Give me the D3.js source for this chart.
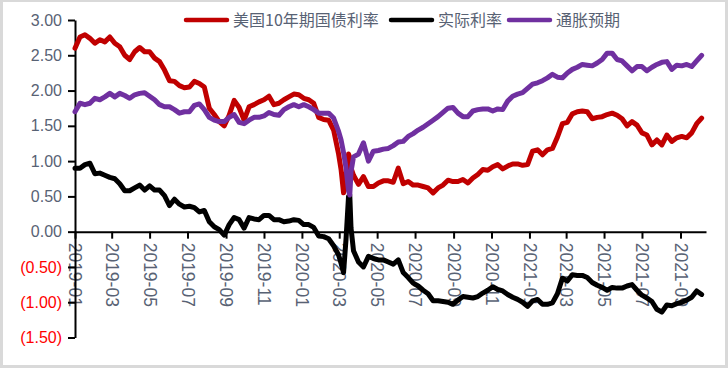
<!DOCTYPE html>
<html>
<head>
<meta charset="utf-8">
<script src="https://cdn.jsdelivr.net/npm/d3@7"></script>
<style>
  body { margin: 0; background: #d9d9d9; }
  svg { display: block; }
</style>
</head>
<body>
<div id="chart"></div>
<script>
// observation dates (roughly every 8 days, extra points around the March 2020 crash)
const dates = [
  "2019-01-01","2019-01-09","2019-01-17","2019-01-25","2019-02-02","2019-02-10","2019-02-18","2019-02-26",
  "2019-03-06","2019-03-14","2019-03-22","2019-03-30","2019-04-07","2019-04-15","2019-04-23","2019-05-01",
  "2019-05-09","2019-05-17","2019-05-25","2019-06-02","2019-06-10","2019-06-18","2019-06-26","2019-07-04",
  "2019-07-12","2019-07-20","2019-07-28","2019-08-05","2019-08-13","2019-08-21","2019-08-29","2019-09-06",
  "2019-09-14","2019-09-22","2019-09-30","2019-10-08","2019-10-16","2019-10-24","2019-11-01","2019-11-09",
  "2019-11-17","2019-11-25","2019-12-03","2019-12-11","2019-12-19","2019-12-27",
  "2020-01-04","2020-01-12","2020-01-20","2020-01-28","2020-02-05","2020-02-13","2020-02-21","2020-02-29",
  "2020-03-04","2020-03-08","2020-03-12","2020-03-16","2020-03-18","2020-03-20","2020-03-24","2020-04-01",
  "2020-04-09","2020-04-17","2020-04-25","2020-05-03","2020-05-11","2020-05-19","2020-05-27","2020-06-04",
  "2020-06-12","2020-06-20","2020-06-28","2020-07-06","2020-07-14","2020-07-22","2020-07-30","2020-08-07",
  "2020-08-15","2020-08-23","2020-08-31","2020-09-08","2020-09-16","2020-09-24","2020-10-02","2020-10-10",
  "2020-10-18","2020-10-26","2020-11-03","2020-11-11","2020-11-19","2020-11-27","2020-12-05","2020-12-13",
  "2020-12-21","2020-12-29",
  "2021-01-06","2021-01-14","2021-01-22","2021-01-30","2021-02-07","2021-02-15","2021-02-23","2021-03-03",
  "2021-03-11","2021-03-19","2021-03-27","2021-04-04","2021-04-12","2021-04-20","2021-04-28","2021-05-06",
  "2021-05-14","2021-05-22","2021-05-30","2021-06-07","2021-06-15","2021-06-23","2021-07-01","2021-07-09",
  "2021-07-17","2021-07-25","2021-08-02","2021-08-10","2021-08-18","2021-08-26","2021-09-03","2021-09-11",
  "2021-09-19","2021-09-27","2021-10-05"
];

// 美国10年期国债利率
const nominal = [
  2.60,2.76,2.79,2.74,2.67,2.72,2.69,2.76,2.67,2.62,2.50,2.44,2.55,2.61,2.55,2.55,
  2.46,2.41,2.29,2.14,2.13,2.07,2.04,2.05,2.13,2.10,2.05,1.75,1.66,1.56,1.50,1.65,
  1.86,1.76,1.58,1.77,1.80,1.84,1.87,1.92,1.80,1.82,1.87,1.91,1.95,1.94,
  1.89,1.87,1.82,1.62,1.59,1.58,1.44,1.10,0.88,0.55,0.80,1.10,1.05,0.90,0.80,0.67,
  0.78,0.64,0.64,0.69,0.72,0.72,0.70,0.90,0.68,0.71,0.66,0.66,0.64,0.62,0.55,0.62,
  0.66,0.73,0.71,0.71,0.74,0.69,0.76,0.81,0.88,0.87,0.92,0.95,0.89,0.93,0.96,0.96,
  0.94,0.95,
  1.14,1.16,1.09,1.16,1.18,1.34,1.53,1.55,1.67,1.70,1.71,1.70,1.60,1.62,1.63,1.66,
  1.68,1.65,1.60,1.50,1.56,1.51,1.40,1.37,1.23,1.30,1.23,1.37,1.28,1.33,1.35,1.33,
  1.40,1.53,1.61
];

// 实际利率
const real = [
  0.90,0.90,0.95,0.97,0.82,0.83,0.80,0.77,0.75,0.68,0.58,0.58,0.62,0.66,0.59,0.65,
  0.59,0.59,0.51,0.37,0.46,0.39,0.35,0.36,0.34,0.28,0.30,0.14,0.07,0.03,-0.05,0.10,
  0.20,0.17,0.05,0.20,0.18,0.17,0.23,0.23,0.17,0.17,0.14,0.15,0.17,0.16,
  0.10,0.10,0.06,-0.06,-0.07,-0.10,-0.20,-0.33,-0.45,-0.58,-0.10,0.50,0.52,0.05,-0.27,-0.43,
  -0.50,-0.35,-0.38,-0.40,-0.40,-0.43,-0.46,-0.40,-0.58,-0.65,-0.73,-0.77,-0.83,-0.88,-0.98,-0.98,
  -0.99,-1.00,-1.03,-0.97,-0.92,-0.93,-0.94,-0.92,-0.87,-0.83,-0.78,-0.82,-0.84,-0.89,-0.93,-0.96,
  -1.00,-1.06,
  -0.98,-0.96,-1.03,-1.03,-1.01,-0.88,-0.66,-0.70,-0.61,-0.62,-0.62,-0.65,-0.72,-0.76,-0.79,-0.83,
  -0.79,-0.80,-0.80,-0.77,-0.75,-0.83,-0.90,-0.94,-0.99,-1.10,-1.14,-1.04,-1.05,-1.02,-1.00,-0.97,
  -0.93,-0.84,-0.89
];

// 通胀预期
const breakeven = [
  1.70,1.82,1.80,1.82,1.89,1.87,1.91,1.96,1.91,1.96,1.93,1.89,1.94,1.96,1.97,1.92,
  1.87,1.80,1.77,1.77,1.73,1.68,1.70,1.70,1.79,1.81,1.73,1.62,1.58,1.56,1.56,1.62,
  1.66,1.55,1.53,1.58,1.62,1.62,1.64,1.69,1.66,1.65,1.73,1.77,1.80,1.77,
  1.80,1.77,1.73,1.68,1.68,1.68,1.61,1.42,1.30,1.12,0.90,0.58,0.52,0.85,1.06,1.10,
  1.26,1.00,1.14,1.15,1.17,1.18,1.22,1.27,1.28,1.35,1.39,1.44,1.48,1.53,1.58,1.63,
  1.69,1.75,1.76,1.68,1.63,1.63,1.71,1.73,1.74,1.74,1.71,1.74,1.73,1.85,1.92,1.95,
  1.97,2.03,
  2.09,2.11,2.14,2.18,2.23,2.19,2.18,2.25,2.30,2.33,2.37,2.36,2.35,2.39,2.44,2.53,
  2.53,2.44,2.42,2.35,2.28,2.34,2.34,2.28,2.33,2.37,2.40,2.41,2.30,2.36,2.35,2.37,
  2.34,2.42,2.50
];

const seriesNames = ["美国10年期国债利率", "实际利率", "通胀预期"];
const yTicks = [3.0, 2.5, 2.0, 1.5, 1.0, 0.5, 0.0, -0.5, -1.0, -1.5];

const W = 728, H = 368;
const margin = { top: 20, right: 22, bottom: 30.5, left: 75 };
const colors = ["#c00000", "#000000", "#7030a0"];
const textGray = "#586274";
const numFont = "'Liberation Sans', Arial, sans-serif";
const cjkFont = "'Noto Sans CJK SC', 'Liberation Sans', sans-serif";

const parse = d3.timeParse("%Y-%m-%d");
const parsed = dates.map(parse);

const svg = d3.select("#chart").append("svg")
  .attr("width", W)
  .attr("height", H);

// white chart area inside the grey frame
svg.append("rect")
  .attr("x", 3).attr("y", 2)
  .attr("width", 722).attr("height", 363)
  .attr("fill", "#ffffff");

const x = d3.scaleTime()
  .domain([new Date(2019, 0, 1), new Date(2021, 9, 12)])
  .range([margin.left, W - margin.right]);

const y = d3.scaleLinear()
  .domain([-1.5, 3])
  .range([H - margin.bottom, margin.top]);

// x axis along zero
const xAxis = svg.append("g")
  .attr("transform", `translate(0, ${y(0)})`)
  .call(d3.axisBottom(x)
    .ticks(d3.timeMonth.every(2))
    .tickFormat(d3.timeFormat("%Y-%m"))
    .tickSize(7)
    .tickSizeOuter(0));

xAxis.select(".domain").attr("stroke", "#000").attr("stroke-width", 2);
xAxis.selectAll(".tick line").attr("stroke", "#000").attr("stroke-width", 2);
xAxis.selectAll(".tick text")
  .attr("transform", "rotate(90)")
  .attr("x", 11)
  .attr("y", 0)
  .attr("dy", "0.36em")
  .attr("text-anchor", "start")
  .attr("fill", textGray)
  .style("font-family", numFont)
  .style("font-size", "17.5px");

// y axis
const yAxis = svg.append("g")
  .attr("transform", `translate(${margin.left}, 0)`)
  .call(d3.axisLeft(y)
    .tickValues(yTicks)
    .tickFormat(d => d < 0 ? `(${d3.format(".2f")(-d)})` : d3.format(".2f")(d))
    .tickSize(7)
    .tickPadding(6)
    .tickSizeOuter(0));

yAxis.select(".domain").attr("stroke", "#000").attr("stroke-width", 2);
yAxis.selectAll(".tick line").attr("stroke", "#000").attr("stroke-width", 2);
yAxis.selectAll(".tick text")
  .attr("fill", d => d < 0 ? "#ff0000" : textGray)
  .style("font-family", numFont)
  .style("font-size", "16px");

// series lines (purple drawn last so it sits on top)
const seriesValues = [nominal, real, breakeven];
const line = d3.line()
  .x((d, i) => x(parsed[i]))
  .y(d => y(d));

seriesValues.forEach((vals, idx) => {
  svg.append("path")
    .datum(vals)
    .attr("fill", "none")
    .attr("stroke", colors[idx])
    .attr("stroke-width", 5)
    .attr("stroke-linejoin", "round")
    .attr("stroke-linecap", "round")
    .attr("d", line);
});

// legend at the top
const legendX = [186, 391, 509];
const legend = svg.append("g");
seriesNames.forEach((name, i) => {
  legend.append("line")
    .attr("x1", legendX[i]).attr("x2", legendX[i] + 41)
    .attr("y1", 20).attr("y2", 20)
    .attr("stroke", colors[i])
    .attr("stroke-width", 4.5)
    .attr("stroke-linecap", "round");
  legend.append("text")
    .attr("x", legendX[i] + 47)
    .attr("y", 20)
    .attr("dy", "0.36em")
    .attr("fill", textGray)
    .style("font-family", cjkFont)
    .style("font-size", "16px")
    .text(name);
});
</script>
</body>
</html>
